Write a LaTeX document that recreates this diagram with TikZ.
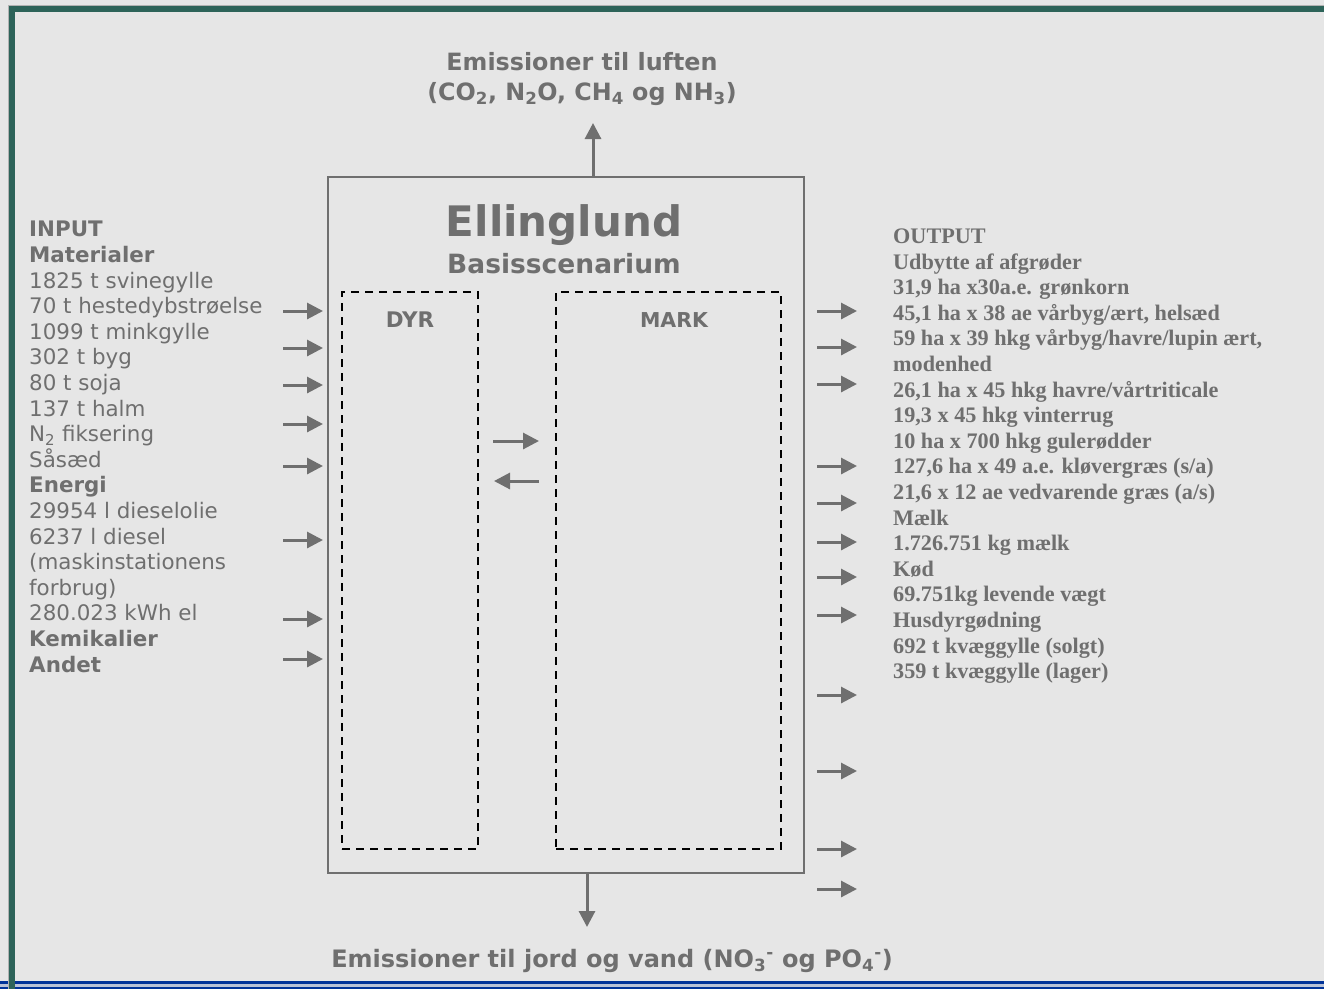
\documentclass[tikz,border=0pt]{standalone}
\usepackage{fontspec}
\setmainfont{DejaVu Sans}
\newfontfamily\tnr{Liberation Serif}
\usetikzlibrary{arrows.meta}
\definecolor{bg}{HTML}{E6E6E6}
\definecolor{txt}{HTML}{6F6F6F}
\definecolor{ramme}{HTML}{2D6359}
\definecolor{blaa}{HTML}{003399}
\tikzset{
  pil/.style={line width=3pt, draw=txt, -{Triangle[length=16pt,width=16pt]}},
  stiplet/.style={draw=black, line width=2pt, dash pattern=on 8pt off 6pt},
  tekst/.style={text=txt, inner sep=0pt},
}
\begin{document}
\begin{tikzpicture}[x=1pt,y=-1pt]
  \useasboundingbox (0,0) rectangle (1324,989);
  % baggrund og ramme
  \fill[bg] (0,0) rectangle (1324,989);
  \fill[blaa] (0,981) rectangle (1324,984);
  \fill[blaa!20!bg] (0,984) rectangle (1324,987);
  \fill[blaa] (0,987) rectangle (1324,989);
  \draw[gray!60, line width=1pt] (8.5,989) -- (8.5,5.5) -- (1324,5.5);
  \fill[ramme] (9,6) rectangle (1324,12);
  \fill[ramme] (9,6) rectangle (15,989);

  % bedriften
  \node[draw=txt, line width=2pt, minimum width=476pt, minimum height=696pt] (farm) at (566,525) {};
  \node[stiplet, minimum width=136pt, minimum height=557pt] (dyr) at (410,570.5) {};
  \node[stiplet, minimum width=225pt, minimum height=557pt] (mark) at (668.5,570.5) {};
  \node[tekst, font=\bfseries\fontsize{42}{44}\selectfont] (navn) at (564,225) {Ellinglund};
  \node[tekst, font=\bfseries\fontsize{26.5}{30}\selectfont] (scenarie) at (564,264) {Basisscenarium};
  \node[tekst, font=\bfseries\fontsize{21.5}{24}\selectfont] (dyrlbl) at (410,320) {DYR};
  \node[tekst, font=\bfseries\fontsize{20.5}{24}\selectfont] (marklbl) at (674,320) {MARK};
  \draw[pil, shorten <=14pt, shorten >=16pt] (dyr.east |- 0,441) -- (mark.west |- 0,441);
  \draw[pil, shorten <=16pt, shorten >=15pt] (mark.west |- 0,481) -- (dyr.east |- 0,481);

  % emissioner
  \node[tekst, align=center, font=\bfseries\fontsize{23.8}{30}\selectfont] (luft) at (582,79)
    {Emissioner til luften\\(CO\textsubscript{2}, N\textsubscript{2}O, CH\textsubscript{4} og NH\textsubscript{3})};
  \coordinate (luftpil) at (593,123);
  \draw[pil] (farm.north -| luftpil) -- (luftpil);
  \node[tekst, font=\bfseries\fontsize{24}{30}\selectfont] (jord) at (612,961)
    {Emissioner til jord og vand (NO\textsubscript{3}\textsuperscript{-} og PO\textsubscript{4}\textsuperscript{-})};
  \coordinate (jordpil) at (587,927);
  \draw[pil] (farm.south -| jordpil) -- (jordpil);

  % input
  \node[tekst, anchor=north west, align=left, font=\fontsize{21.4}{25.6}\selectfont] (input) at (29,221)
    {\textbf{INPUT}\\ \textbf{Materialer}\\ 1825 t svinegylle\\ 70 t hestedybstrøelse\\
     1099 t minkgylle\\ 302 t byg\\ 80 t soja\\ 137 t halm\\ N\textsubscript{2} fiksering\\
     Såsæd\\ \textbf{Energi}\\ 29954 l dieselolie\\ 6237 l diesel\\ (maskinstationens\\
     forbrug)\\ 280.023 kWh el\\ \textbf{Kemikalier}\\ \textbf{Andet}};
  \foreach \y in {311,348,385,424,466,540,619,659}
    \draw[pil] (283,\y) -- (323,\y);

  % output
  \node[tekst, anchor=north west, align=left, font=\tnr\bfseries\fontsize{22.2}{25.6}\selectfont] (output) at (893,228.5)
    {OUTPUT\\ Udbytte af afgrøder\\ 31,9 ha x30a.e. grønkorn\\ 45,1 ha x 38 ae vårbyg/ært, helsæd\\
     59 ha x 39 hkg vårbyg/havre/lupin ært,\\ modenhed\\ 26,1 ha x 45 hkg havre/vårtriticale\\
     19,3 x 45 hkg vinterrug\\ 10 ha x 700 hkg gulerødder\\ 127,6 ha x 49 a.e. kløvergræs (s/a)\\
     21,6 x 12 ae vedvarende græs (a/s)\\ Mælk\\ 1.726.751 kg mælk\\ Kød\\ 69.751kg levende vægt\\
     Husdyrgødning\\ 692 t kvæggylle (solgt)\\ 359 t kvæggylle (lager)};
  \foreach \y in {311,347,384,466,503,542,577,615,695,771,849,889}
    \draw[pil] (817,\y) -- (857,\y);
\end{tikzpicture}
\end{document}
